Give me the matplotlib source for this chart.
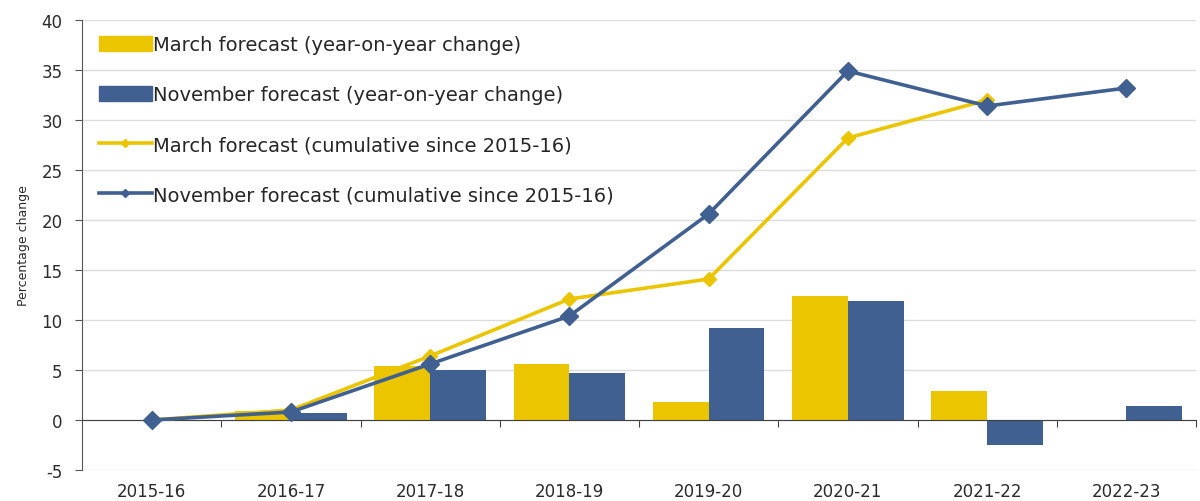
import numpy as np
import matplotlib.pyplot as plt
from matplotlib.patches import Patch
from matplotlib.lines import Line2D

plt.rcParams["axes.unicode_minus"] = False

# Financial years on the horizontal axis
years = ["2015-16", "2016-17", "2017-18", "2018-19", "2019-20",
         "2020-21", "2021-22", "2022-23"]

# Year-on-year change (%), bars
march_yoy = [0.0, 0.9, 5.4, 5.6, 1.8, 12.4, 2.9, np.nan]
november_yoy = [0.0, 0.7, 5.0, 4.7, 9.2, 11.9, -2.5, 1.4]

# Cumulative change since 2015-16 (%), lines
march_cum = [0.0, 1.0, 6.4, 12.1, 14.1, 28.2, 32.0, np.nan]
november_cum = [0.0, 0.8, 5.6, 10.4, 20.6, 34.9, 31.4, 33.2]

yellow = "#EAC500"
blue = "#3F6090"
text_col = "#2b2b2b"

x = np.arange(len(years))
w = 0.4

fig = plt.figure(figsize=(12, 5.02), dpi=100)
ax = fig.add_axes([82 / 1200, 31 / 502, 1114 / 1200, 450 / 502])

ax.bar(x - w / 2, march_yoy, w, color=yellow, zorder=2)
ax.bar(x + w / 2, november_yoy, w, color=blue, zorder=2)

ax.plot(x, march_cum, color=yellow, lw=2.6, marker="D", ms=7, zorder=3)
ax.plot(x, november_cum, color=blue, lw=2.6, marker="D", ms=9, zorder=4)

ax.set_xlim(-0.5, len(years) - 0.5)
ax.set_ylim(-5, 40)
ax.set_yticks(np.arange(-5, 41, 5))
ax.yaxis.grid(True, color="#dcdcdc", lw=1)
ax.set_axisbelow(True)

# x axis sits on zero, ticks between categories, labels pushed to the bottom
ax.spines["bottom"].set_position(("data", 0))
ax.spines["bottom"].set_color("#404040")
ax.spines["left"].set_color("#555555")
ax.spines["top"].set_visible(False)
ax.spines["right"].set_visible(False)
ax.set_xticks(x + 0.5)
ax.set_xticklabels([])
ax.set_xticks(x, minor=True)
ax.set_xticklabels(years, minor=True)
ax.tick_params(axis="x", which="major", direction="out", length=5, color="#404040")
ax.tick_params(axis="x", which="minor", length=0, pad=45, labelsize=12,
               labelcolor=text_col)
ax.tick_params(axis="y", direction="out", length=5, color="#555555", pad=9,
               labelsize=12, labelcolor=text_col)

ax.set_ylabel("Percentage change", fontsize=9, color=text_col, labelpad=8)

handles = [
    Patch(color=yellow),
    Patch(color=blue),
    Line2D([], [], color=yellow, lw=2.6, marker="D", ms=4),
    Line2D([], [], color=blue, lw=2.6, marker="D", ms=4),
]
labels = [
    "March forecast (year-on-year change)",
    "November forecast (year-on-year change)",
    "March forecast (cumulative since 2015-16)",
    "November forecast (cumulative since 2015-16)",
]
ax.legend(handles, labels, loc="upper left", bbox_to_anchor=(0.008, 0.984),
          frameon=False, fontsize=14, handlelength=2.75, handleheight=0.8,
          handletextpad=0.05, labelspacing=1.6, borderaxespad=0,
          labelcolor="#262626")

fig.savefig("out.png", dpi=100)
